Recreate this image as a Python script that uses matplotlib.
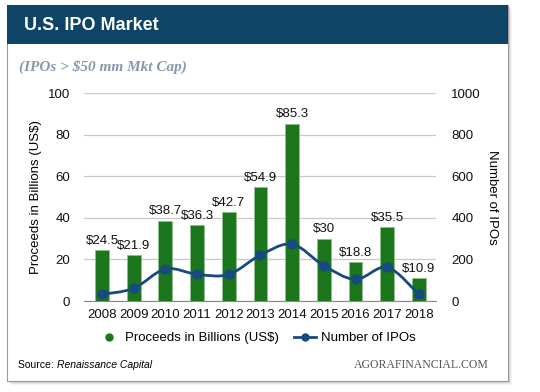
import matplotlib
matplotlib.use("Agg")
import matplotlib.pyplot as plt
from matplotlib.patches import Rectangle, PathPatch
from matplotlib.path import Path
from matplotlib.lines import Line2D
import numpy as np

years = ["2008", "2009", "2010", "2011", "2012", "2013", "2014", "2015", "2016", "2017", "2018"]
proceeds = [24.5, 21.9, 38.7, 36.3, 42.7, 54.9, 85.3, 30, 18.8, 35.5, 10.9]
proceed_labels = ["$24.5", "$21.9", "$38.7", "$36.3", "$42.7", "$54.9", "$85.3", "$30", "$18.8", "$35.5", "$10.9"]
num_ipos = [32, 61, 154, 128, 128, 221, 273, 170, 104, 162, 32]

W, H = 540, 392
fig = plt.figure(figsize=(W / 100, H / 100), dpi=100)
fig.patch.set_facecolor("white")

def px(x0, y0, x1, y1):
    return (x0 / W, 1 - y1 / H), (x1 - x0) / W, (y1 - y0) / H

FONT = "Liberation Sans"
SERIF = "Liberation Serif"

# shadow
for i, a in enumerate([0.10, 0.08, 0.06, 0.04]):
    xy, w, h = px(7 + 1 + i, 5 + 1 + i, 508 + 1 + i, 381 + 1 + i)
    fig.patches.append(Rectangle(xy, w, h, transform=fig.transFigure, facecolor="black",
                                 alpha=a, edgecolor="none", zorder=0))
# card
xy, w, h = px(7, 5, 508, 381)
fig.patches.append(Rectangle(xy, w, h, transform=fig.transFigure, facecolor="white",
                             edgecolor="#9a9a9a", linewidth=0.8, zorder=1))
# header
xy, w, h = px(7, 5, 508, 44)
fig.patches.append(Rectangle(xy, w, h, transform=fig.transFigure, facecolor="#0e4566",
                             edgecolor="none", zorder=2))

fig.text(24 / W, 1 - 25 / H, "U.S. IPO Market", color="white", fontsize=13,
         fontweight="bold", family=FONT, va="center", ha="left", zorder=3)
fig.text(19 / W, 1 - 67 / H, "(IPOs > $50 mm Mkt Cap)", color="#8797ad", fontsize=11,
         fontweight="bold", style="italic", family=SERIF, va="center", ha="left", zorder=3)

ax = fig.add_axes([84 / W, 1 - 301 / H, 352 / W, 208 / H])
ax.set_zorder(5)
ax.patch.set_alpha(0)
ax2 = ax.twinx()
ax2.set_zorder(6)
ax2.patch.set_alpha(0)

x = np.arange(len(years))
ax.bar(x, proceeds, width=0.44, color="#1c761c", edgecolor="#8fbf8f", linewidth=0.6, zorder=3)
for xi, v, lab in zip(x, proceeds, proceed_labels):
    ax.text(xi, v + 1.5, lab, ha="center", va="bottom", fontsize=9.5, family=FONT, color="#111111")

ax.set_xlim(-0.57, 10.54)
ax.set_ylim(0, 100)
ax.set_yticks([0, 20, 40, 60, 80, 100])
ax.set_xticks(x)
ax.set_xticklabels(years)
ax.yaxis.grid(True, color="#c8c8c8", linewidth=0.9, zorder=0)
ax.set_axisbelow(True)
for s in ["left", "right", "top"]:
    ax.spines[s].set_visible(False)
ax.spines["bottom"].set_color("#888888")
ax.tick_params(axis="x", length=0, labelsize=9.5, colors="#111111", pad=6)
ax.tick_params(axis="y", length=0, labelsize=9.5, colors="#111111", pad=10)
for lab in ax.get_xticklabels() + ax.get_yticklabels():
    lab.set_family(FONT)
ax.set_ylabel("Proceeds in Billions (US$)", fontsize=9.5, family=FONT, labelpad=4)

ax2.set_ylim(0, 1000)
ax2.set_yticks([0, 200, 400, 600, 800, 1000])
for s in ["left", "right", "top", "bottom"]:
    ax2.spines[s].set_visible(False)
ax2.tick_params(axis="y", length=0, labelsize=9.5, colors="#111111", pad=11)
for lab in ax2.get_yticklabels():
    lab.set_family(FONT)
ax2.set_ylabel("Number of IPOs", fontsize=9.5, family=FONT, rotation=-90, labelpad=12)

# smooth line via Catmull-Rom Bezier through data points
pts = np.column_stack([x, num_ipos]).astype(float)
verts = [tuple(pts[0])]
codes = [Path.MOVETO]
n = len(pts)
for i in range(n - 1):
    p0 = pts[i - 1] if i > 0 else pts[i]
    p1 = pts[i]
    p2 = pts[i + 1]
    p3 = pts[i + 2] if i + 2 < n else pts[i + 1]
    c1 = p1 + (p2 - p0) / 6.0
    c2 = p2 - (p3 - p1) / 6.0
    verts += [tuple(c1), tuple(c2), tuple(p2)]
    codes += [Path.CURVE4] * 3
ax2.add_patch(PathPatch(Path(verts, codes), facecolor="none", edgecolor="#174a7e",
                        linewidth=2, zorder=4))
ax2.plot(x, num_ipos, linestyle="none", marker="o", markersize=6.5, color="#174a7e", zorder=5)

handles = [
    Line2D([], [], linestyle="none", marker="o", markersize=5, color="#1c761c"),
    Line2D([], [], color="#174a7e", linewidth=2, marker="o", markersize=5),
]
fig.legend(handles, ["Proceeds in Billions (US$)", "Number of IPOs"], loc="center",
           bbox_to_anchor=(257 / W, 1 - 338 / H), ncol=2, frameon=False,
           prop={"family": FONT, "size": 9.5}, handlelength=1.6, handletextpad=0.4,
           columnspacing=1.2)

fig.text(18 / W, 1 - 365 / H, "Source: ", fontsize=7.5, family=FONT, va="center", ha="left", zorder=3)
fig.text(57 / W, 1 - 365 / H, "Renaissance Capital", fontsize=7.5, family=FONT, style="italic",
         va="center", ha="left", zorder=3)
fig.text(489 / W, 1 - 365 / H, "AGORAFINANCIAL.COM", fontsize=8.5, family=SERIF, color="#555555",
         va="center", ha="right", zorder=3)

fig.savefig("out.png", dpi=100)
